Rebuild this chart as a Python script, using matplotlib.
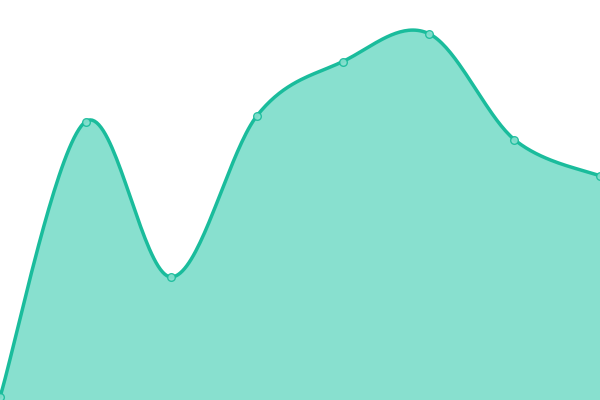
import numpy as np
import matplotlib
matplotlib.use('Agg')
import matplotlib.pyplot as plt

#%% data (height in px above the bottom)
idx = [0, 1, 2, 3, 4, 5, 6, 7]
values = [3, 278.5, 123, 284.5, 338.5, 366.5, 260.5, 224]

line_color = '#1abc9c'
fill_color = '#88e0cf'


def catmull_rom(xs, ys, steps=40):
    # cardinal spline, ends duplicated
    px = [xs[0]] + list(xs) + [xs[-1]]
    py = [ys[0]] + list(ys) + [ys[-1]]
    out_x, out_y = [], []
    for i in range(1, len(px) - 2):
        x0, x1, x2, x3 = px[i - 1], px[i], px[i + 1], px[i + 2]
        y0, y1, y2, y3 = py[i - 1], py[i], py[i + 1], py[i + 2]
        c1x, c1y = x1 + (x2 - x0) / 6, y1 + (y2 - y0) / 6
        c2x, c2y = x2 - (x3 - x1) / 6, y2 - (y3 - y1) / 6
        t = np.linspace(0, 1, steps)
        bx = (1-t)**3*x1 + 3*(1-t)**2*t*c1x + 3*(1-t)*t**2*c2x + t**3*x2
        by = (1-t)**3*y1 + 3*(1-t)**2*t*c1y + 3*(1-t)*t**2*c2y + t**3*y2
        out_x.extend(bx)
        out_y.extend(by)
    return np.array(out_x), np.array(out_y)


sx, sy = catmull_rom(idx, values)

fig = plt.figure(figsize=(6, 4), dpi=100)
ax = fig.add_axes([0, 0, 1, 1])
ax.fill_between(sx, 0, sy, color=fill_color, lw=0)
ax.plot(sx, sy, color=line_color, lw=2.5, solid_capstyle='round')
ax.plot(idx, values, 'o', ms=5.5, mfc=fill_color, mec=line_color,
        mew=1, alpha=0.9)
ax.set_xlim(0, 7)
ax.set_ylim(0, 400)
ax.axis('off')
fig.savefig('out.png', dpi=100)
